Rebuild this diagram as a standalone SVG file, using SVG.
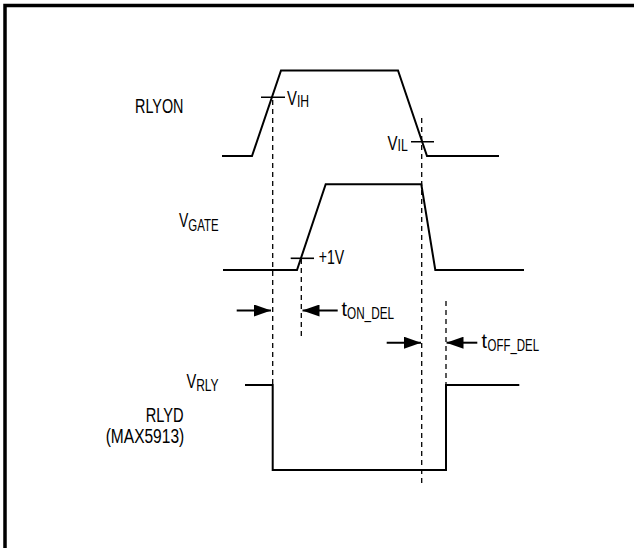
<svg xmlns="http://www.w3.org/2000/svg" width="634" height="548" viewBox="0 0 634 548">
<style>
.sig{fill:none;stroke:#000;stroke-width:2;stroke-linejoin:miter}
.tick{fill:none;stroke:#000;stroke-width:1.6}
.dash{fill:none;stroke:#000;stroke-width:1.3;stroke-dasharray:5 4}
.arr{fill:none;stroke:#000;stroke-width:2;marker-end:url(#ah)}
.t{font-family:"Liberation Sans Narrow","Arial Narrow","Liberation Sans",Arial,sans-serif;font-size:19.5px;fill:#000}
.s{font-size:16px}
</style>
<defs>
<marker id="ah" viewBox="0 0 17 12" refX="17" refY="6" markerWidth="17" markerHeight="12" markerUnits="userSpaceOnUse" orient="auto">
<path d="M0,0 L17,6 L0,12 Z" fill="#000"/>
</marker>
</defs>
<rect width="634" height="548" fill="#fff"/>
<path id="frame" d="M5,548 V5.5 H634" fill="none" stroke="#000" stroke-width="3.5"/>

<g id="rlyon">
<path class="sig" d="M222,156 H252 L281,70.5 H398 L427,156 H499"/>
<path class="tick" d="M261,97.3 H285 M411,141.7 H434"/>
<text class="t" x="135" y="113.3" textLength="48.5" lengthAdjust="spacingAndGlyphs">RLYON</text>
<text class="t" transform="translate(287,105) scale(0.76,1)">V<tspan class="s" dy="1.7">IH</tspan></text>
<text class="t" transform="translate(387.5,150) scale(0.77,1)">V<tspan class="s" dy="1">IL</tspan></text>
</g>

<g id="vgate">
<path class="sig" d="M223,270 H297 L325.7,184.3 H421.3 L435.3,270 H524"/>
<path class="tick" d="M290.7,258.3 H314"/>
<text class="t" transform="translate(179,226.7) scale(0.716,1)">V<tspan class="s" dy="4">GATE</tspan></text>
<text class="t" x="318.7" y="264.3" textLength="25.5" lengthAdjust="spacingAndGlyphs">+1V</text>
</g>

<g id="rlyd">
<path class="sig" d="M245,385 H272.7 V470 H446 V385 H519.3"/>
<text class="t" transform="translate(186.4,388.3) scale(0.75,1)">V<tspan class="s" dy="2.4">RLY</tspan></text>
<text class="t" x="145.7" y="422" textLength="38" lengthAdjust="spacingAndGlyphs">RLYD</text>
<text class="t" x="105.7" y="443.3" textLength="78.5" lengthAdjust="spacingAndGlyphs">(MAX5913)</text>
</g>

<g id="guides">
<path class="dash" d="M272.7,100 V385"/>
<path class="dash" d="M421.7,118 V487"/>
<path class="dash" d="M301.3,259 V339"/>
<path class="dash" d="M446,301 V385"/>
</g>

<g id="connectors">
<path class="arr" d="M236.7,310.5 H271"/>
<path class="arr" d="M337.7,310.5 H302.5"/>
<path class="arr" d="M386.7,342.7 H421"/>
<path class="arr" d="M477.3,342.7 H446.5"/>
</g>

<g id="delay-labels">
<text class="t"><tspan x="341.5" y="315.7" textLength="5.5" lengthAdjust="spacingAndGlyphs">t</tspan><tspan class="s" x="347" y="319" textLength="47" lengthAdjust="spacingAndGlyphs">ON_DEL</tspan></text>
<text class="t"><tspan x="481.5" y="348.3" textLength="5.5" lengthAdjust="spacingAndGlyphs">t</tspan><tspan class="s" x="487.5" y="350.7" textLength="51.5" lengthAdjust="spacingAndGlyphs">OFF_DEL</tspan></text>
</g>
</svg>
